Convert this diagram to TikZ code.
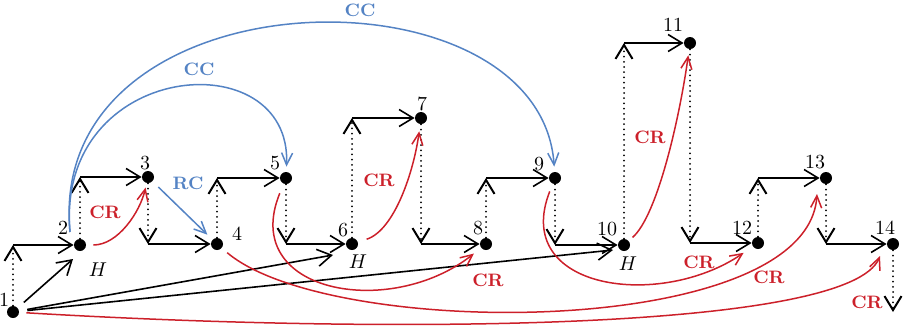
\documentclass[tikz,border=0pt]{standalone}
\usetikzlibrary{arrows.meta}
\definecolor{crred}{RGB}{204,32,42}
\definecolor{ccblue}{RGB}{84,131,196}
\begin{document}
\begin{tikzpicture}[x=0.5pt,y=-0.5pt,
  dot/.style={circle,fill=black,inner sep=0pt,minimum size=6pt},
  num/.style={inner sep=0pt,font=\normalsize},
  lab/.style={inner sep=0pt,font=\small\bfseries},
  blk/.style={line width=0.8pt,-{Straight Barb[length=7pt,width=8.5pt]}},
  dots/.style={blk,line width=1pt,dash pattern=on 0pt off 2.6pt,line cap=round},
  rd/.style={crred,line width=0.75pt,-{Straight Barb[length=6pt,width=5.5pt]}},
  bl/.style={ccblue,line width=0.75pt,-{Straight Barb[length=6pt,width=5.5pt]}}]
\useasboundingbox (0,0) rectangle (905,327);

% vertices
\node[dot] (n1) at (13,312) {};
\node[dot] (n2) at (80,245) {};
\node[dot] (n3) at (148,177) {};
\node[dot] (n4) at (217,244) {};
\node[dot] (n5) at (286,178) {};
\node[dot] (n6) at (352,244) {};
\node[dot] (n7) at (421,118) {};
\node[dot] (n8) at (486,244) {};
\node[dot] (n9) at (555,178) {};
\node[dot] (n10) at (624,245) {};
\node[dot] (n11) at (690,43) {};
\node[dot] (n12) at (758,243) {};
\node[dot] (n13) at (826,178) {};
\node[dot] (n14) at (893,244) {};

% numbers
\node[num] (l1) at (4,300) {1};
\node[num] (l2) at (63,228) {2};
\node[num] (l3) at (145,163) {3};
\node[num] (l4) at (237,234) {4};
\node[num] (l5) at (275,163) {5};
\node[num] (l6) at (343,230) {6};
\node[num] (l7) at (422,104) {7};
\node[num] (l8) at (478,228) {8};
\node[num] (l9) at (539,164) {9};
\node[num] (l10) at (607,229) {10};
\node[num] (l11) at (673,25) {11};
\node[num] (l12) at (742,228) {12};
\node[num] (l13) at (815,162) {13};
\node[num] (l14) at (885,228) {14};

% H labels
\node[num] (h2) at (98,270) {$H$};
\node[num] (h6) at (358,262) {$H$};
\node[num] (h10) at (628,264) {$H$};

% staircase
\foreach \a/\b in {1/2,2/3,3/4,4/5,5/6,6/7,7/8,8/9,9/10,10/11,11/12,12/13,13/14}{
  \coordinate (c\a) at (n\a |- n\b);
  \draw[dots] (n\a) -- (c\a);
  \draw[blk] (c\a) -- (n\b);
}
\coordinate (c14) at (n14 |- n1);
\draw[dots] (n14) -- (c14);

% black arrows from 1
\coordinate (e2) at (73,259);
\coordinate (e6) at (333,255);
\coordinate (e10) at (613,250);
\draw[blk,shorten <=4pt] (n1) -- (e2);
\draw[blk,shorten <=4pt] (n1) -- (e6);
\draw[blk,shorten <=4pt] (n1) -- (e10);

% red CR arrows
\draw[rd,shorten <=3.5pt,shorten >=2.2pt] (n2) .. controls (118,245) and (140,212) .. (n3);
\draw[rd,shorten <=4.5pt,shorten >=3.5pt] (n6) .. controls (395,230) and (414,170) .. (n7);
\draw[rd,shorten <=2.5pt,shorten >=3pt] (n10) .. controls (658,215) and (680,115) .. (n11);
\draw[rd,shorten <=5pt,shorten >=4.5pt] (n5) .. controls (239,293) and (390,320) .. (n8);
\draw[rd,shorten <=4pt,shorten >=5.5pt] (n9) .. controls (511,290) and (660,310) .. (n12);
\draw[rd,shorten <=3.5pt] (n4) .. controls (330,340) and (808,340) .. ([shift={(-9,16)}]n13.center);
\draw[rd,shorten <=3.5pt] (n1) .. controls (400,335) and (850,330) .. ([shift={(-13,12)}]n14.center);

\node[lab,text=crred] (cr1) at (105,212) {CR};
\node[lab,text=crred] (cr2) at (379,180) {CR};
\node[lab,text=crred] (cr3) at (650,137) {CR};
\node[lab,text=crred] (cr4) at (488,280) {CR};
\node[lab,text=crred] (cr5) at (699,262) {CR};
\node[lab,text=crred] (cr6) at (769,277) {CR};
\node[lab,text=crred] (cr7) at (867,302) {CR};

% blue arrows
\draw[bl,shorten >=2.5pt] ([shift={(-10,-13)}]n2.center) .. controls (55,60) and (292,40) .. (n5);
\draw[bl,shorten >=2.5pt] ([shift={(-10,-13)}]n2.center) .. controls (45,-30) and (540,-40) .. (n9);
\draw[bl,shorten <=4pt,shorten >=3.5pt] (n3) -- (n4);

\node[lab,text=ccblue] (rc) at (188,183) {RC};
\node[lab,text=ccblue] (cc1) at (199,69) {CC};
\node[lab,text=ccblue] (cc2) at (360,10) {CC};
\end{tikzpicture}
\end{document}
